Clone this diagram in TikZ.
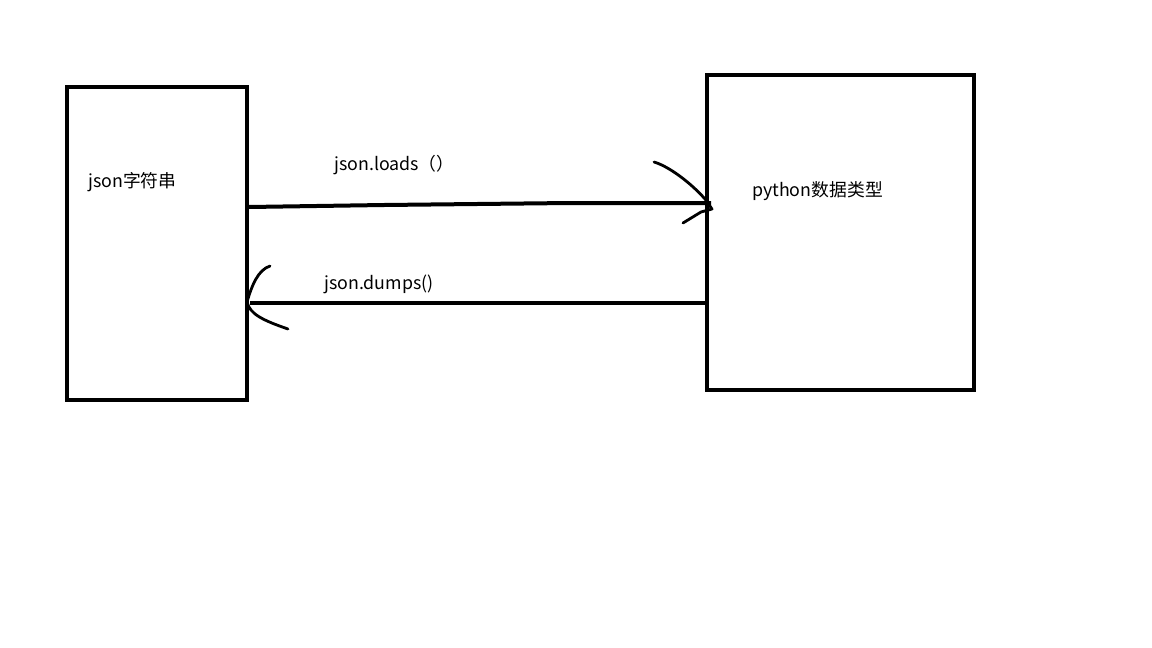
\documentclass[tikz,border=0pt]{standalone}
\usepackage{fontspec}
\usetikzlibrary{calc}
\setmainfont{Noto Sans CJK SC}
\begin{document}
\begin{tikzpicture}[x=1pt,y=-1pt,
  box/.style={draw=black,line width=4pt,minimum width=180pt,minimum height=313pt,anchor=north west,inner sep=0pt},
  lbl/.style={anchor=west,font=\fontsize{17.8}{20}\selectfont,inner sep=0pt},
  shaft/.style={line width=4pt},
  head/.style={line width=2.8pt,line cap=round,line join=round}]
\useasboundingbox[fill=white] (0,0) rectangle (1152,648);
\node[box] (L) at (65,85) {};
\node[box,minimum width=267pt,minimum height=315pt] (R) at (705,73) {};
\node[lbl] (tL) at (88,182) {json字符串};
\node[lbl] (tR) at (752,191) {python数据类型};
\node[lbl] (tLoads) at (334,165) {json.loads（）};
\node[lbl] (tDumps) at (324,284) {json.dumps()};
% top arrow (loads)
\coordinate (a1) at ($(L.north east)+(0,122)$);
\coordinate (a2) at (384,205);
\coordinate (a3) at (570,203);
\coordinate (a4) at (711,203);
\draw[shaft] (a1) -- (a2) -- (a3) -- (a4);
\coordinate (h1) at (654,162);
\coordinate (h2) at (712,209);
\coordinate (h3) at (683,223);
\draw[head] (h1) .. controls (668,166) and (690,182) .. (705,199) -- (h2) -- (701,212) -- (h3);
% bottom arrow (dumps)
\coordinate (b1) at ($(R.north west)+(0,230)$);
\coordinate (b2) at (250,303);
\draw[shaft] (b1) -- (b2);
\coordinate (g1) at (270,266);
\coordinate (g2) at (288,329);
\draw[head] (g1) .. controls (258,270) and (252,285) .. (247,302) .. controls (250,314) and (262,320) .. (g2);
\end{tikzpicture}
\end{document}
